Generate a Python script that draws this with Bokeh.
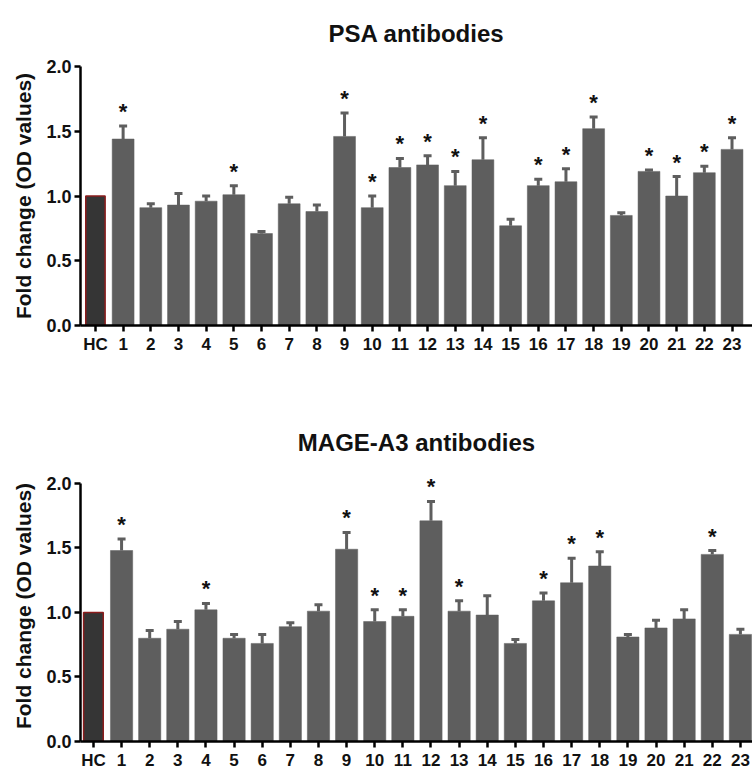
from bokeh.plotting import figure
from bokeh.models import ColumnDataSource, Range1d, FixedTicker, PrintfTickFormatter, LabelSet
from bokeh.layouts import column
from bokeh.embed import file_html
from bokeh.resources import INLINE
from bokeh.core.properties import value

# ---------------- data ----------------
categories = ["HC"] + [str(i) for i in range(1, 24)]

psa_title = "PSA antibodies"
psa_mean = [1.00, 1.44, 0.91, 0.93, 0.96, 1.01, 0.71, 0.94, 0.88, 1.46, 0.91, 1.22,
            1.24, 1.08, 1.28, 0.77, 1.08, 1.11, 1.52, 0.85, 1.19, 1.00, 1.18, 1.36]
psa_err = [0.00, 0.10, 0.03, 0.09, 0.04, 0.07, 0.015, 0.05, 0.05, 0.18, 0.09, 0.07,
           0.07, 0.11, 0.17, 0.05, 0.05, 0.10, 0.09, 0.02, 0.01, 0.15, 0.05, 0.09]
psa_sig = ["1", "5", "9", "10", "11", "12", "13", "14", "16", "17", "18", "20", "21", "22", "23"]

mage_title = "MAGE-A3 antibodies"
mage_mean = [1.00, 1.48, 0.80, 0.87, 1.02, 0.80, 0.76, 0.89, 1.01, 1.49, 0.93, 0.97,
             1.71, 1.01, 0.98, 0.76, 1.09, 1.23, 1.36, 0.81, 0.88, 0.95, 1.45, 0.83]
mage_err = [0.00, 0.09, 0.06, 0.06, 0.05, 0.03, 0.07, 0.03, 0.05, 0.13, 0.09, 0.05,
            0.15, 0.08, 0.15, 0.03, 0.06, 0.19, 0.11, 0.02, 0.06, 0.07, 0.03, 0.04]
mage_sig = ["1", "4", "9", "10", "11", "12", "13", "16", "17", "18", "22"]

y_ticks = [0.0, 0.5, 1.0, 1.5, 2.0]
y_label = "Fold change (OD values)"
control = "HC"

# ---------------- style ----------------
FONT = "Liberation Sans"
BAR = "#5e5e5e"
HC_FILL = "#353535"
HC_LINE = "#8b1c1c"


def make(title, means, errs, sig, height, b_top, b_bottom, b_left, x_start, x_end,
         y_end, standoff, valign):
    xs = list(range(len(categories)))
    p = figure(width=752, height=height, output_backend="svg", toolbar_location=None,
               x_range=Range1d(x_start, x_end), y_range=Range1d(0, y_end),
               min_border_top=b_top, min_border_bottom=b_bottom,
               min_border_left=b_left, min_border_right=0)
    p.title.text = title
    p.title.align = "center"
    p.title.vertical_align = valign
    p.title.text_font = FONT
    p.title.text_font_size = "24px"
    p.title.text_font_style = "bold"
    p.title.text_color = "#111111"
    p.title.standoff = standoff

    ctrl = [i for i, c in enumerate(categories) if c == control]
    rest = [i for i, c in enumerate(categories) if c != control]

    src = ColumnDataSource(dict(x=rest, top=[means[i] for i in rest]))
    p.vbar(x="x", top="top", bottom=0, width=0.79, source=src,
           fill_color=BAR, line_color=BAR, line_width=0.5)
    src_c = ColumnDataSource(dict(x=ctrl, top=[means[i] for i in ctrl]))
    p.vbar(x="x", top="top", bottom=0, width=0.70, source=src_c,
           fill_color=HC_FILL, line_color=HC_LINE, line_width=1.5)

    ei = [i for i in xs if errs[i] > 0]
    esrc = ColumnDataSource(dict(x=ei, y0=[means[i] for i in ei],
                                 y1=[means[i] + errs[i] for i in ei]))
    p.segment(x0="x", y0="y0", x1="x", y1="y1", source=esrc, line_color=BAR, line_width=3)
    p.rect(x="x", y="y1", width=8, height=3, width_units="screen", height_units="screen",
           source=esrc, fill_color=BAR, line_color=None)

    si = [categories.index(s) for s in sig]
    ssrc = ColumnDataSource(dict(x=si, y=[means[i] + errs[i] for i in si], t=["*"] * len(si)))
    stars = LabelSet(x="x", y="y", text="t", source=ssrc, text_align="center",
                     text_baseline="alphabetic", y_offset=7,
                     text_font=value(FONT), text_font_size="22px", text_font_style="bold",
                     text_color="#111111")
    p.add_layout(stars)

    p.xaxis.ticker = FixedTicker(ticks=xs)
    p.xaxis.major_label_overrides = {i: c for i, c in zip(xs, categories)}
    p.yaxis.ticker = FixedTicker(ticks=y_ticks)
    p.yaxis.bounds = (y_ticks[0], y_ticks[-1])
    p.yaxis.formatter = PrintfTickFormatter(format="%.1f")
    p.yaxis.axis_label = y_label
    p.yaxis.axis_label_text_font = FONT
    p.yaxis.axis_label_text_font_size = "21px"
    p.yaxis.axis_label_text_font_style = "bold"
    p.yaxis.axis_label_text_color = "#111111"
    p.yaxis.axis_label_standoff = 8

    for ax in (p.xaxis, p.yaxis):
        ax.axis_line_width = 2.5
        ax.axis_line_color = "black"
        ax.major_tick_line_width = 2.5
        ax.major_tick_line_color = "black"
        ax.major_tick_out = 6
        ax.major_tick_in = 0
        ax.minor_tick_line_color = None
        ax.major_label_text_font = FONT
        ax.major_label_text_font_style = "bold"
        ax.major_label_text_color = "#111111"
        ax.major_label_standoff = 3
    p.xaxis.major_label_text_font_size = "17px"
    p.yaxis.major_label_text_font_size = "18px"

    p.grid.visible = False
    p.outline_line_color = None
    return p


p1 = make(psa_title, psa_mean, psa_err, psa_sig, 386, 66, 61, 80, -0.54, 23.74, 2.0, 36, "top")
p2 = make(mage_title, mage_mean, mage_err, mage_sig, 386, 84, 27, 77, -0.46, 23.43, 2.1, 29, "bottom")

layout = column(p1, p2, spacing=0)
open("out.html", "w").write(file_html(layout, INLINE))
